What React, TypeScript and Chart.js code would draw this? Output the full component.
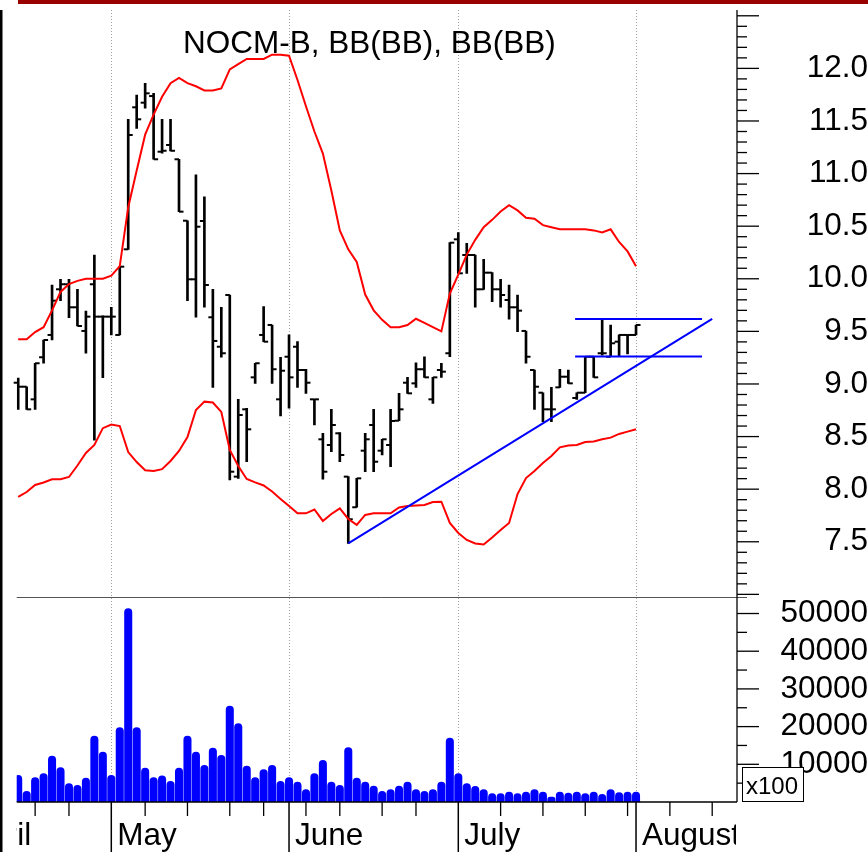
import React, { useEffect, useRef } from 'react';
import { Chart, registerables } from 'chart.js';

Chart.register(...registerables);

// ---- data (trading-day index 0..73, April -> 1 August) ----
const OPEN = [9.012, 8.974, 8.854, 9.254, 9.466, 9.900, 9.948, 9.729, 9.504, 9.948,
  9.640, 9.640, 9.466, 10.280, 11.630, 11.674, 11.737, 11.208, 11.272, 11.136,
  10.552, 9.995, 10.549, 9.634, 9.354, 9.846, 8.119, 8.759, 9.063, 9.466,
  9.561, 8.854, 9.259, 9.354, 9.133, 8.854, 8.474, 8.420, 8.531, 8.119,
  7.828, 8.366, 8.610, 8.366, 8.420, 8.651, 9.012, 9.006, 9.140, 8.854,
  9.133, 9.292, 10.375, 10.226, 10.226, 9.900, 10.058, 9.900, 9.798, 9.729,
  9.504, 9.133, 8.917, 8.759, 8.968, 9.069, 8.867, 8.917, 9.259, 9.292,
  9.259, 9.402, 9.466, 9.466];
const HIGH = [9.057, 8.974, 9.197, 9.418, 9.941, 9.995, 9.995, 9.900, 9.694, 10.226,
  9.647, 9.729, 10.115, 11.516, 11.747, 11.858, 11.763, 11.516, 11.516, 11.136,
  10.552, 10.987, 10.780, 9.900, 9.729, 9.846, 8.854, 8.769, 9.197, 9.735,
  9.561, 9.254, 9.466, 9.402, 9.140, 8.854, 8.531, 8.759, 8.537, 8.119,
  8.103, 8.531, 8.759, 8.474, 8.759, 8.911, 9.063, 9.202, 9.259, 9.063,
  9.197, 10.343, 10.438, 10.337, 10.226, 10.185, 10.058, 9.995, 9.941, 9.846,
  9.504, 9.133, 8.917, 8.968, 9.140, 9.133, 8.917, 9.259, 9.259, 9.618,
  9.561, 9.466, 9.466, 9.561];
const LOW = [8.759, 8.759, 8.759, 9.197, 9.418, 9.792, 9.630, 9.551, 9.292, 8.467,
  9.060, 9.466, 9.466, 10.280, 11.430, 11.621, 11.136, 11.193, 11.215, 10.638,
  9.792, 9.634, 9.729, 8.968, 9.254, 8.087, 8.103, 8.261, 9.006, 9.402,
  9.006, 8.696, 8.769, 8.968, 8.911, 8.610, 8.094, 8.356, 8.261, 7.485,
  7.828, 8.166, 8.166, 8.325, 8.214, 8.651, 8.911, 8.968, 9.063, 8.816,
  9.063, 9.259, 10.052, 10.052, 9.729, 9.900, 9.782, 9.729, 9.615, 9.497,
  9.197, 8.759, 8.641, 8.641, 8.968, 9.006, 8.854, 8.917, 9.063, 9.275,
  9.259, 9.259, 9.285, 9.466];
const CLOSE = [8.974, 8.759, 9.197, 9.418, 9.792, 9.948, 9.729, 9.551, 9.640, 9.640,
  9.640, 9.640, 10.115, 11.367, 11.516, 11.763, 11.136, 11.217, 11.217, 10.638,
  9.995, 10.495, 9.941, 9.409, 9.292, 8.166, 8.705, 8.569, 9.197, 9.402,
  9.140, 9.126, 9.063, 9.133, 9.012, 8.854, 8.166, 8.610, 8.325, 7.714,
  8.103, 8.474, 8.261, 8.474, 8.648, 8.759, 8.911, 9.140, 9.063, 9.063,
  9.117, 10.343, 10.052, 10.226, 9.900, 10.058, 9.900, 9.846, 9.729, 9.697,
  9.259, 8.974, 8.759, 8.759, 9.069, 9.006, 8.917, 9.259, 9.063, 9.292,
  9.387, 9.466, 9.466, 9.561];
const BB_UPPER = [9.425, 9.425, 9.494, 9.54, 9.70, 9.875, 9.95, 9.98, 10.0, 10.0,
  10.0, 10.03, 10.12, 10.68, 11.03, 11.37, 11.56, 11.73, 11.86, 11.91,
  11.86, 11.83, 11.79, 11.79, 11.81, 11.99, 12.04, 12.09, 12.09, 12.09,
  12.13, 12.13, 12.12, 11.89, 11.64, 11.40, 11.19, 10.84, 10.46, 10.28,
  10.16, 9.85, 9.70, 9.61, 9.54, 9.54, 9.56, 9.62, 9.58, 9.54,
  9.50, 9.86, 10.04, 10.23, 10.37, 10.49, 10.56, 10.64, 10.70, 10.65,
  10.58, 10.57, 10.51, 10.49, 10.47, 10.47, 10.47, 10.47, 10.46, 10.44,
  10.47, 10.35, 10.26, 10.12];
const BB_LOWER = [7.926, 7.973, 8.04, 8.064, 8.094, 8.094, 8.116, 8.225, 8.344, 8.42,
  8.58, 8.615, 8.60, 8.353, 8.258, 8.18, 8.173, 8.19, 8.268, 8.363,
  8.496, 8.753, 8.832, 8.824, 8.734, 8.373, 8.22, 8.097, 8.064, 8.035,
  7.978, 7.907, 7.84, 7.77, 7.77, 7.807, 7.698, 7.764, 7.817, 7.717,
  7.66, 7.755, 7.77, 7.77, 7.77, 7.826, 7.84, 7.845, 7.85, 7.878,
  7.881, 7.679, 7.584, 7.517, 7.484, 7.474, 7.541, 7.612, 7.679, 7.954,
  8.106, 8.173, 8.249, 8.315, 8.398, 8.415, 8.42, 8.449, 8.454, 8.475,
  8.49, 8.525, 8.547, 8.569];
const VOLUME = [7160, 2900, 6540, 7600, 12280, 9200, 4950, 4500, 6450, 17600,
  13350, 7160, 19800, 51400, 19800, 9100, 6540, 7000, 5570, 9100,
  17600, 13350, 9800, 14400, 12470, 25550, 20870, 9630, 6540, 8670,
  9800, 5570, 6540, 5400, 3360, 7600, 11140, 5400, 4500, 14500,
  6450, 5400, 4330, 2900, 3360, 4330, 5400, 3360, 2900, 3360,
  5400, 17060, 7600, 4950, 4240, 3360, 2300, 2300, 2740, 2300,
  2740, 3360, 2740, 1400, 2740, 2450, 2740, 2300, 2740, 2120,
  3360, 2600, 2740, 2740];

const PRICE_TICKS = [7.5, 8.0, 8.5, 9.0, 9.5, 10.0, 10.5, 11.0, 11.5, 12.0];
const VOLUME_TICKS = [10000, 20000, 30000, 40000, 50000];
const MONTHS = ['April', 'May', 'June', 'July', 'August'];
const MONTH_START = [-6.6, 11, 32, 52, 73];
const WEEK_START = [2, 6, 15, 20, 25, 29, 34, 38, 43, 47, 57, 62, 67, 72, 77, 82];
const TREND_LINE = [{ x: 39, y: 7.485 }, { x: 82, y: 9.618 }];
const RANGE_TOP = [{ x: 65.8, y: 9.618 }, { x: 80.8, y: 9.618 }];
const RANGE_BOTTOM = [{ x: 65.8, y: 9.26 }, { x: 80.8, y: 9.26 }];
const TITLE = 'NOCM-B, BB(BB), BB(BB)';
const VOLUME_UNIT = 'x100';

const FONT = '"Liberation Sans", Arial, Helvetica, sans-serif';
const LABEL_PX = 31.5;

function measure(text: string, px: number) {
  const c = document.createElement('canvas').getContext('2d') as CanvasRenderingContext2D;
  c.font = `${px}px ${FONT}`;
  return c.measureText(text).width;
}

function seg(ctx: CanvasRenderingContext2D, x1: number, y1: number, x2: number, y2: number) {
  ctx.beginPath();
  ctx.moveTo(x1, y1);
  ctx.lineTo(x2, y2);
  ctx.stroke();
}

function noPadding(s: any) {
  s.paddingTop = 0;
  s.paddingBottom = 0;
  s.paddingLeft = 0;
  s.paddingRight = 0;
}

const decorPlugin = {
  id: 'decor',
  beforeDatasetsDraw(chart: any) {
    const { ctx, chartArea: a, scales } = chart;
    const xs = scales.x;
    ctx.save();
    ctx.strokeStyle = '#a0a0a0';
    ctx.lineWidth = 1;
    ctx.setLineDash([1, 2]);
    for (const m of MONTH_START.slice(1)) {
      const px = Math.round(xs.getPixelForValue(m)) + 0.5;
      seg(ctx, px, a.top, px, a.bottom);
    }
    ctx.restore();
  },
  afterDatasetDraw(chart: any, args: any) {
    if (args.index !== 1) return;
    const { ctx, scales } = chart;
    const xs = scales.x;
    const yp = scales.price;
    ctx.save();
    ctx.strokeStyle = '#000';
    ctx.lineWidth = 2;
    for (let i = 0; i < OPEN.length; i++) {
      const x = xs.getPixelForValue(i);
      const yo = yp.getPixelForValue(OPEN[i]);
      const yc = yp.getPixelForValue(CLOSE[i]);
      seg(ctx, x - 4.5, yo, x, yo);
      seg(ctx, x, yc, x + 4.5, yc);
    }
    ctx.restore();
  },
  afterDraw(chart: any) {
    const { ctx, chartArea: a, scales } = chart;
    const xs = scales.x;
    const yp = scales.price;
    const yv = scales.vol;
    ctx.save();
    // frame decorations
    ctx.fillStyle = '#990000';
    ctx.fillRect(18, 0, chart.width - 18, 4);
    ctx.fillStyle = '#000';
    ctx.fillRect(0, a.top, 2.5, chart.height - a.top);

    // panel separator
    ctx.strokeStyle = '#555';
    ctx.lineWidth = 1;
    const sepY = Math.round(yp.bottom) + 0.5;
    seg(ctx, a.left, sepY, a.right + 10, sepY);

    // right axis line and bottom axis line
    ctx.strokeStyle = '#000';
    ctx.lineWidth = 1.3;
    seg(ctx, a.right, a.top, a.right, a.bottom);
    seg(ctx, a.left, a.bottom, a.right, a.bottom);

    // price ticks
    for (let k = 70; k <= 125; k++) {
      const y = yp.getPixelForValue(k / 10);
      const major = k % 5 === 0;
      seg(ctx, a.right, y, a.right + (major ? 22 : 10), y);
    }
    // volume ticks
    for (let v = 5000; v <= 50000; v += 5000) {
      const y = yv.getPixelForValue(v);
      const major = v % 10000 === 0;
      seg(ctx, a.right, y, a.right + (major ? 22 : 10), y);
    }
    // time axis ticks
    for (const w of WEEK_START) {
      const x = xs.getPixelForValue(w);
      seg(ctx, x, a.bottom, x, a.bottom + 14);
    }
    ctx.lineWidth = 1.5;
    for (const m of MONTH_START.slice(1)) {
      const x = xs.getPixelForValue(m);
      seg(ctx, x, a.bottom, x, chart.height);
    }
    // month labels
    ctx.save();
    ctx.beginPath();
    ctx.rect(a.left, a.bottom, a.right - 1 - a.left, chart.height - a.bottom);
    ctx.clip();
    ctx.fillStyle = '#000';
    ctx.font = `${LABEL_PX}px ${FONT}`;
    ctx.textAlign = 'left';
    ctx.textBaseline = 'alphabetic';
    MONTHS.forEach((m, i) => {
      ctx.fillText(m, xs.getPixelForValue(MONTH_START[i]) + 6, a.bottom + 43);
    });
    ctx.restore();

    // title
    ctx.fillStyle = '#000';
    ctx.font = `${LABEL_PX}px ${FONT}`;
    ctx.textAlign = 'left';
    ctx.textBaseline = 'alphabetic';
    ctx.fillText(TITLE, 183, 53);

    // volume unit box
    ctx.fillStyle = '#fff';
    ctx.fillRect(742, 767, 61, 34);
    ctx.strokeStyle = '#000';
    ctx.lineWidth = 1;
    ctx.strokeRect(742.5, 767.5, 61, 34);
    ctx.fillStyle = '#000';
    ctx.font = `24px ${FONT}`;
    ctx.fillText(VOLUME_UNIT, 746, 794);
    ctx.restore();
  },
};

export default function App() {
  const ref = useRef<HTMLCanvasElement | null>(null);

  useEffect(() => {
    if (!ref.current) return;
    const priceWidest = Math.max(...PRICE_TICKS.map((v) => measure(v.toFixed(1), LABEL_PX)));
    const volWidest = Math.max(...VOLUME_TICKS.map((v) => measure(String(v), LABEL_PX)));
    const axisWidth = 131;
    const labelRight = 125;

    const pts = (arr: number[]) => arr.map((v, i) => ({ x: i, y: v }));

    const chart = new Chart(ref.current, {
      type: 'bar',
      data: {
        datasets: [
          {
            type: 'bar',
            label: 'Volume',
            data: pts(VOLUME) as any,
            yAxisID: 'vol',
            xAxisID: 'x',
            backgroundColor: '#0000ff',
            borderWidth: 0,
            borderRadius: { topLeft: 4, topRight: 4, bottomLeft: 0, bottomRight: 0 },
            borderSkipped: false,
            barPercentage: 0.95,
            categoryPercentage: 1,
            grouped: false,
            order: 6,
          } as any,
          {
            type: 'bar',
            label: 'NOCM-B',
            data: HIGH.map((h, i) => ({ x: i, y: [LOW[i], h] })) as any,
            yAxisID: 'price',
            xAxisID: 'x',
            backgroundColor: '#000',
            borderWidth: 0,
            barThickness: 2,
            grouped: false,
            order: 5,
          } as any,
          {
            type: 'line',
            label: 'BB upper',
            data: pts(BB_UPPER) as any,
            yAxisID: 'price',
            borderColor: '#ff0000',
            borderWidth: 2,
            pointRadius: 0,
            tension: 0,
            order: 3,
          } as any,
          {
            type: 'line',
            label: 'BB lower',
            data: pts(BB_LOWER) as any,
            yAxisID: 'price',
            borderColor: '#ff0000',
            borderWidth: 2,
            pointRadius: 0,
            tension: 0,
            order: 3,
          } as any,
          {
            type: 'line',
            label: 'Trend',
            data: TREND_LINE as any,
            yAxisID: 'price',
            borderColor: '#0000ff',
            borderWidth: 2,
            pointRadius: 0,
            order: 1,
          } as any,
          {
            type: 'line',
            label: 'Range top',
            data: RANGE_TOP as any,
            yAxisID: 'price',
            borderColor: '#0000ff',
            borderWidth: 2,
            pointRadius: 0,
            order: 1,
          } as any,
          {
            type: 'line',
            label: 'Range bottom',
            data: RANGE_BOTTOM as any,
            yAxisID: 'price',
            borderColor: '#0000ff',
            borderWidth: 2,
            pointRadius: 0,
            order: 1,
          } as any,
        ],
      },
      options: {
        animation: false,
        responsive: false,
        layout: { padding: { left: 16.7, top: 10, right: 0, bottom: 0 } },
        plugins: {
          legend: { display: false },
          tooltip: { enabled: false },
          title: { display: false },
        },
        scales: {
          x: {
            type: 'linear',
            position: 'bottom',
            min: -0.177,
            max: 84.93,
            offset: false,
            grid: { display: false, drawTicks: false },
            border: { display: false },
            ticks: { display: false },
            afterBuildTicks: (s: any) => {
              s.ticks = MONTH_START.slice(1).map((v) => ({ value: v }));
            },
            afterFit: (s: any) => {
              s.height = 50;
              noPadding(s);
            },
          },
          price: {
            type: 'linear',
            position: 'right',
            stack: 'panes',
            stackWeight: 587,
            min: 6.975,
            max: 12.555,
            grid: { display: false, drawTicks: false },
            border: { display: false },
            ticks: {
              autoSkip: false,
              color: '#000',
              font: { family: FONT, size: LABEL_PX },
              padding: labelRight - priceWidest,
              crossAlign: 'far',
              callback: (v: any) => Number(v).toFixed(1),
            },
            afterBuildTicks: (s: any) => {
              s.ticks = PRICE_TICKS.map((v) => ({ value: v }));
            },
            afterFit: (s: any) => {
              s.width = axisWidth;
              noPadding(s);
            },
          },
          vol: {
            type: 'linear',
            position: 'right',
            stack: 'panes',
            stackWeight: 205,
            min: 0,
            max: 54380,
            grid: { display: false, drawTicks: false },
            border: { display: false },
            ticks: {
              autoSkip: false,
              color: '#000',
              font: { family: FONT, size: LABEL_PX },
              padding: labelRight - volWidest,
              crossAlign: 'far',
              callback: (v: any) => String(v),
            },
            afterBuildTicks: (s: any) => {
              s.ticks = VOLUME_TICKS.map((v) => ({ value: v }));
            },
            afterFit: (s: any) => {
              s.width = axisWidth;
              noPadding(s);
            },
          },
        } as any,
      },
      plugins: [decorPlugin],
    } as any);

    return () => chart.destroy();
  }, []);

  return (
    <div style={{ position: 'fixed', left: 0, top: 0, width: 868, height: 852, background: '#fff' }}>
      <canvas ref={ref} width={868} height={852} style={{ display: 'block' }} />
    </div>
  );
}
